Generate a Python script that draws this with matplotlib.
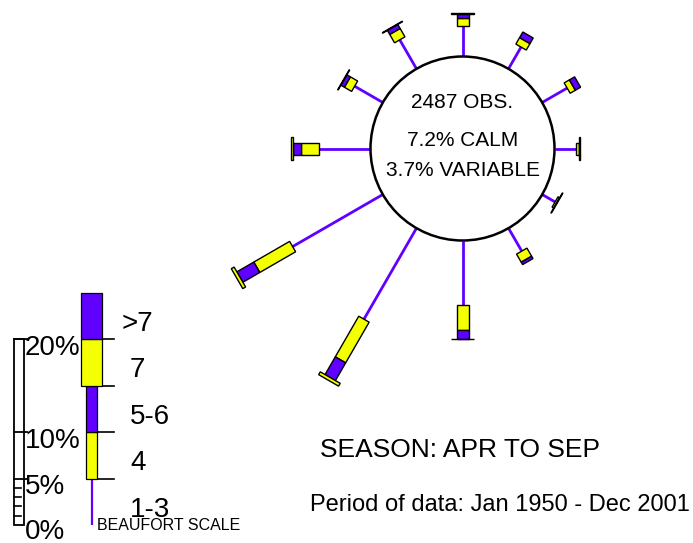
import numpy as np
import matplotlib
matplotlib.use("Agg")
import matplotlib.pyplot as plt
from matplotlib.patches import Polygon, Circle, Rectangle

plt.rcParams["font.family"] = ["Liberation Sans", "DejaVu Sans"]

# direcciones (grados desde el norte, sentido horario)
direcciones = [0, 30, 60, 90, 120, 150, 180, 210, 240, 270, 300, 330]
# frecuencias [%] por clase Beaufort
pct_1_3 = [3.3, 2.7, 3.1, 2.3, 1.6, 2.85, 6.9, 11.3, 11.2, 5.5, 3.5, 3.6]
pct_4 = [0.83, 0.8, 0.65, 0.32, 0.2, 1.0, 2.76, 5.05, 4.45, 1.94, 0.9, 1.04]
pct_5_6 = [0.46, 0.7, 0.65, 0.05, 0.0, 0.3, 0.9, 2.2, 2.1, 0.86, 0.43, 0.5]
pct_7 = [0.08, 0.0, 0.0, 0.06, 0.06, 0.0, 0.08, 0.35, 0.35, 0.2, 0.06, 0.06]
pct_mas7 = [0.0, 0.0, 0.0, 0.0, 0.0, 0.0, 0.0, 0.0, 0.0, 0.0, 0.0, 0.0]

n_obs = 2487
calma = 7.2
variable = 3.7

leyenda_clases = ["1-3", "4", "5-6", "7", ">7"]
leyenda_pct = [5, 5, 5, 5, 5]
escala_ticks = [0, 5, 10, 20]
escala_menores = [1, 2, 3, 4]

MORADO = "#6000ff"
AMARILLO = "#f4ff00"

W, H = 693, 543
CX, CY = 462.5, 148.5
R_CIRC = 92
PX_PCT = 9.3
THIN = 6
WIDE = 11.5


def barra(ax, centro, ang, r0, r1, half, color):
    u = np.array([np.sin(ang), -np.cos(ang)])
    v = np.array([np.cos(ang), np.sin(ang)])
    c = np.array(centro)
    pts = [c + u * r0 + v * half, c + u * r1 + v * half,
           c + u * r1 - v * half, c + u * r0 - v * half]
    ax.add_patch(Polygon(pts, closed=True, facecolor=color, edgecolor="black",
                         lw=1.0, zorder=3))


def linea(ax, centro, ang, r0, r1, lw=2.0):
    u = np.array([np.sin(ang), -np.cos(ang)])
    p0 = np.array(centro) + u * r0
    p1 = np.array(centro) + u * r1
    ax.plot([p0[0], p1[0]], [p0[1], p1[1]], color=MORADO, lw=lw,
            solid_capstyle="butt", zorder=2)


fig = plt.figure(figsize=(W / 100, H / 100), dpi=100)
ax = fig.add_axes([0, 0, 1, 1])
ax.set_xlim(0, W)
ax.set_ylim(H, 0)
ax.axis("off")

# rosa de vientos
for i, d in enumerate(direcciones):
    ang = np.deg2rad(d)
    r = R_CIRC
    r1 = r + pct_1_3[i] * PX_PCT
    linea(ax, (CX, CY), ang, r, r1)
    r = r1
    segs = [(pct_4[i], THIN, AMARILLO), (pct_5_6[i], THIN, MORADO),
            (pct_7[i], WIDE, AMARILLO), (pct_mas7[i], WIDE, MORADO)]
    for val, half, col in segs:
        if val > 0:
            r1 = r + val * PX_PCT
            barra(ax, (CX, CY), ang, r, r1, half, col)
            r = r1

ax.add_patch(Circle((CX, CY), R_CIRC, facecolor="white", edgecolor="black",
                    lw=1.8, zorder=4))
ax.text(CX, 103, f"{n_obs} OBS.", ha="center", va="center", fontsize=15, zorder=5)
ax.text(CX, 140, f"{calma}% CALM", ha="center", va="center", fontsize=15, zorder=5)
ax.text(CX, 170, f"{variable}% VARIABLE", ha="center", va="center", fontsize=15, zorder=5)

# leyenda Beaufort
LX, LY0 = 91.5, 525
base = 0
for j, (clase, val) in enumerate(zip(leyenda_clases, leyenda_pct)):
    y0 = LY0 - base * PX_PCT
    y1 = LY0 - (base + val) * PX_PCT
    if j == 0:
        ax.plot([LX, LX], [y0, y1], color=MORADO, lw=1.6, solid_capstyle="butt")
    else:
        half = 5.5 if j < 3 else 10.5
        col = AMARILLO if j % 2 == 1 else MORADO
        ax.add_patch(Rectangle((LX - half, y1), 2 * half, y0 - y1, facecolor=col,
                               edgecolor="black", lw=0.9, zorder=3))
    if j < len(leyenda_clases) - 1:
        ax.plot([LX, 114], [y1, y1], color="black", lw=1.2, zorder=2)
    ax.text(130 if clase != ">7" else 122, (y0 + y1) / 2 + 8, clase,
            ha="left", va="center", fontsize=20)
    base += val
ax.text(97, LY0, "BEAUFORT SCALE", ha="left", va="center", fontsize=11.5)

# barra de escala
SX0, SX1 = 14, 24
ax.add_patch(Rectangle((SX0, LY0 - 20 * PX_PCT), SX1 - SX0, 20 * PX_PCT,
                       facecolor="white", edgecolor="black", lw=1.3))
for t in escala_ticks:
    y = LY0 - t * PX_PCT
    if t > 0:
        ax.plot([SX0, 26.5], [y, y], color="black", lw=1.3)
    ax.text(25, y + (9 if t > 0 else 7), f"{t}%", ha="left", va="center", fontsize=20)
for t in escala_menores:
    y = LY0 - t * PX_PCT
    ax.plot([SX0, 20.5], [y, y], color="black", lw=1.2)

ax.text(460, 450, "SEASON: APR TO SEP", ha="center", va="center", fontsize=19)
ax.text(500, 505, "Period of data: Jan 1950 - Dec 2001", ha="center", va="center",
        fontsize=17)

fig.savefig("out.png", dpi=100)
